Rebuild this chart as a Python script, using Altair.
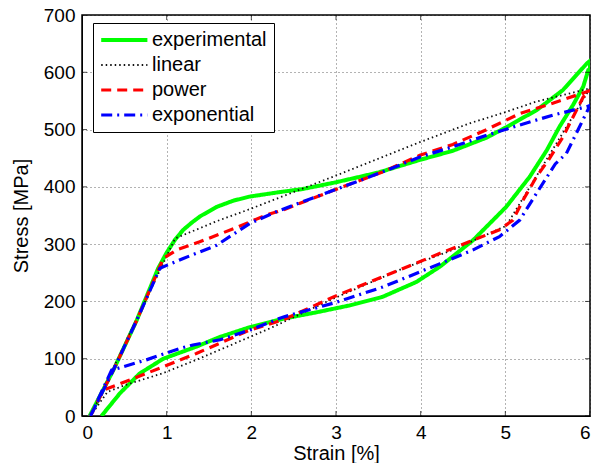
import altair as alt
import pandas as pd

# ---- data ----
series_names = ["experimental", "linear", "power", "exponential"]

exp_x = [0.09, 0.37, 0.646, 0.80, 0.90, 1.0, 1.1, 1.196, 1.3, 1.40, 1.59, 1.79, 1.98, 2.34, 2.6, 3.0, 3.5, 3.99, 4.38, 4.78, 5.01, 5.37, 5.68, 5.96, 6.0,
         6.0, 5.98, 5.92, 5.80, 5.64, 5.49, 5.35, 5.29, 5.01, 4.62, 4.23, 3.95, 3.55, 3.16, 2.77, 2.38, 1.98, 1.63, 1.35, 0.96, 0.68, 0.45, 0.23]
exp_y = [0, 80, 167, 222, 258, 285, 308, 325, 338, 349, 365, 376, 383, 391, 396, 408, 425, 447, 463, 486, 504, 534, 569, 615, 620,
         606, 604, 575, 543, 505, 464, 432, 418, 365, 307, 261, 234, 208, 193, 181, 170, 155, 138, 121, 100, 74, 40, 0]

lin_x = [0.1, 1.1, 1.59, 1.98, 2.97, 3.99, 4.58, 4.97, 5.37, 5.84, 6.0,
         6.0, 5.01, 4.38, 3.75, 2.97, 2.22, 1.35, 0.96, 0.51, 0.30, 0.1]
lin_y = [0, 310, 340, 361, 418, 478, 511, 529, 549, 566, 572,
         572, 332, 290, 255, 205, 153, 98, 75, 54, 42, 0]

pow_x = [0.1, 0.37, 0.646, 0.96, 1.12, 1.39, 1.79, 2.18, 2.38, 2.97, 3.55, 3.99, 4.38, 4.78, 5.17, 5.56, 5.92, 6.0,
         6.0, 5.92, 5.80, 5.68, 5.51, 5.37, 5.21, 5.09, 4.93, 4.62, 4.23, 3.55, 2.97, 2.38, 1.98, 1.35, 0.96, 0.567, 0.25, 0.1]
pow_y = [0, 80, 167, 275, 290, 304, 327, 351, 360, 394, 426, 455, 474, 500, 528, 546, 564, 568,
         568, 557, 522, 487, 447, 418, 377, 342, 325, 307, 284, 243, 208, 168, 150, 109, 86, 63, 45, 0]

expo_x = [0.1, 0.37, 0.646, 0.92, 1.196, 1.59, 1.98, 2.30, 2.97, 3.55, 3.99, 4.38, 4.78, 5.17, 5.56, 5.96, 6.0,
          6.0, 5.84, 5.72, 5.59, 5.37, 5.17, 4.93, 4.62, 4.23, 3.75, 3.55, 2.97, 2.38, 1.98, 1.63, 1.31, 1.157, 0.76, 0.35, 0.1]
expo_y = [0, 80, 167, 258, 275, 298, 336, 357, 394, 426, 452, 470, 490, 508, 525, 540, 542,
          542, 494, 458, 440, 389, 342, 313, 290, 266, 237, 225, 197, 173, 150, 133, 124, 118, 98, 80, 0]

x_ticks = [0, 1, 2, 3, 4, 5, 6]
y_ticks = [0, 100, 200, 300, 400, 500, 600, 700]

# ---- styles ----
colors = ["#00ff00", "#111111", "#ff0000", "#0000ff"]
dashes = [[1, 0], [1.5, 3], [10, 6], [11, 5, 2, 5]]
widths = [4, 1.8, 3.2, 3.2]
FONT = "Liberation Sans"

rows = []
for name, xs, ys in zip(series_names, [exp_x, lin_x, pow_x, expo_x], [exp_y, lin_y, pow_y, expo_y]):
    for i, (xv, yv) in enumerate(zip(xs, ys)):
        rows.append({"series": name, "i": i, "strain": xv, "stress": yv})
df = pd.DataFrame(rows)

xscale = alt.Scale(domain=[0, 6], nice=False, zero=False)
yscale = alt.Scale(domain=[0, 700], nice=False)

leg = alt.Legend(
    title=None, orient="none", legendX=11, legendY=8,
    symbolType="M-1.6,0H6.8", symbolSize=121,
    labelFont=FONT, labelFontSize=20, labelColor="black", labelOffset=32,
    strokeColor="black", fillColor="white", padding=7, rowPadding=5, cornerRadius=0,
)

base = alt.Chart(df).mark_line(clip=True).encode(
    x=alt.X("strain:Q", scale=xscale,
            axis=alt.Axis(values=x_ticks, format="d", title="Strain [%]", labelPadding=7, titlePadding=1)),
    y=alt.Y("stress:Q", scale=yscale,
            axis=alt.Axis(values=y_ticks, format="d", title="Stress [MPa]", labelPadding=7, titlePadding=12)),
    color=alt.Color("series:N", scale=alt.Scale(domain=series_names, range=colors), legend=leg),
    strokeDash=alt.StrokeDash("series:N", scale=alt.Scale(type="ordinal", domain=series_names, range=dashes), legend=leg),
    strokeWidth=alt.StrokeWidth("series:N", scale=alt.Scale(type="ordinal", domain=series_names, range=widths), legend=leg),
    order="i:Q",
)

layers = [base.transform_filter(alt.datum.series == n) for n in series_names]

tick_x = pd.DataFrame({"v": x_ticks})
tick_y = pd.DataFrame({"v": y_ticks})
tx_bottom = alt.Chart(tick_x).mark_tick(clip=True, color="black", size=10, thickness=1).encode(
    x=alt.X("v:Q", scale=xscale), y=alt.value(401))
tx_top = alt.Chart(tick_x).mark_tick(clip=True, color="black", size=10, thickness=1).encode(
    x=alt.X("v:Q", scale=xscale), y=alt.value(0))
ty_left = alt.Chart(tick_y).mark_tick(clip=True, color="black", size=10, thickness=1).encode(
    y=alt.Y("v:Q", scale=yscale), x=alt.value(0))
ty_right = alt.Chart(tick_y).mark_tick(clip=True, color="black", size=10, thickness=1).encode(
    y=alt.Y("v:Q", scale=yscale), x=alt.value(508))

chart = alt.layer(*layers, tx_bottom, tx_top, ty_left, ty_right).properties(
    width=508, height=401,
    autosize=alt.AutoSizeParams(type="none"),
    padding={"left": 74, "top": 7, "right": 10, "bottom": 47},
    background="white",
).configure_view(
    stroke="black", strokeWidth=1.5
).configure_axis(
    labelFont=FONT, titleFont=FONT, labelFontSize=19, titleFontSize=20,
    titleFontWeight="normal", labelColor="black", titleColor="black",
    domainColor="black", domainWidth=1, ticks=False,
    grid=True, gridColor="#000000", gridDash=[1, 3], gridOpacity=0.6, gridWidth=1,
)

chart.save("out.html", embed_options={"renderer": "svg", "actions": False})
